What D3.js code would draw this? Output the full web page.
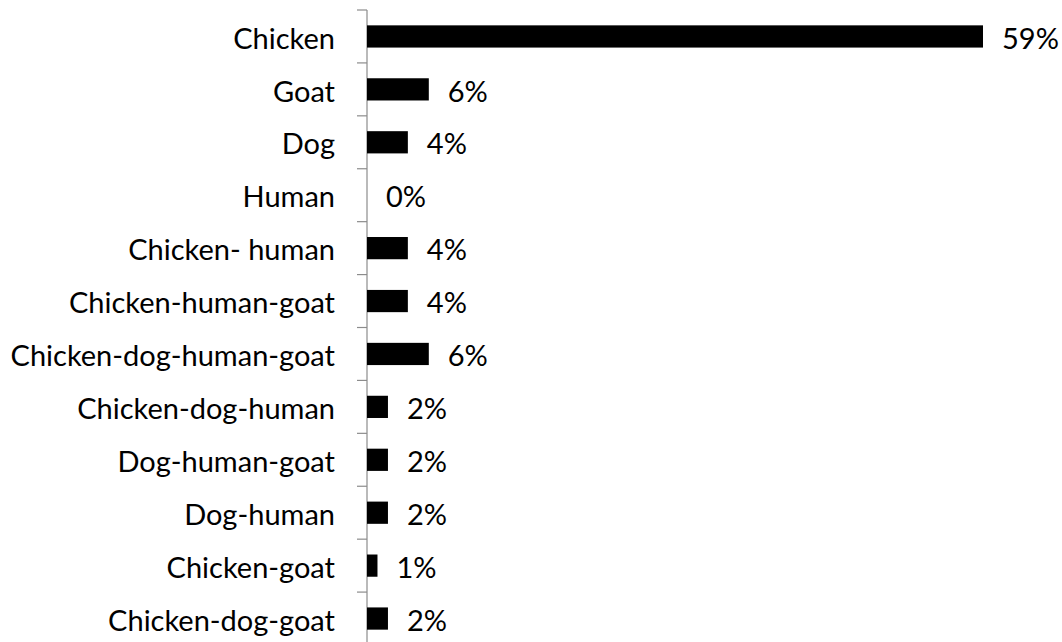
<!DOCTYPE html>
<html>
<head>
<meta charset="utf-8">
<script src="https://cdn.jsdelivr.net/npm/d3@7"></script>
<style>
  body { margin: 0; background: #fff; }
  text { font-family: Lato, "Open Sans", sans-serif; fill: #000; }
</style>
</head>
<body>
<svg id="chart" width="1062" height="642"></svg>
<script>
const categories = ['Chicken', 'Goat', 'Dog', 'Human', 'Chicken- human', 'Chicken-human-goat',
  'Chicken-dog-human-goat', 'Chicken-dog-human', 'Dog-human-goat', 'Dog-human', 'Chicken-goat', 'Chicken-dog-goat']
const values = [58.8, 5.9, 3.9, 0, 3.9, 3.9, 5.9, 2.0, 2.0, 2.0, 1.0, 2.0]

const data = categories.map((c, i) => ({ name: c, value: values[i] }))

const svg = d3.select('#chart')
const axisX = 367

const xScale = d3.scaleLinear().domain([0, 58.8]).range([axisX, 983])
const yScale = d3.scaleBand().domain(categories).range([10, 645]).paddingInner(0.58).paddingOuter(0.29)

// ticks at band boundaries
const step = yScale.step()
const bounds = d3.range(categories.length + 1).map(i => 10 + i * step)

svg.append('line')
  .attr('x1', axisX).attr('x2', axisX)
  .attr('y1', 10).attr('y2', 645)
  .attr('stroke', '#8c8c8c').attr('stroke-width', 1.2)

svg.selectAll('.tick')
  .data(bounds)
  .enter()
  .append('line')
  .attr('x1', axisX - 10).attr('x2', axisX)
  .attr('y1', d => d).attr('y2', d => d)
  .attr('stroke', '#8c8c8c').attr('stroke-width', 1.2)

svg.selectAll('.bar')
  .data(data)
  .enter()
  .append('rect')
  .attr('x', axisX)
  .attr('y', d => yScale(d.name))
  .attr('width', d => xScale(d.value) - axisX)
  .attr('height', yScale.bandwidth())
  .attr('fill', '#000')

svg.selectAll('.cat')
  .data(data)
  .enter()
  .append('text')
  .attr('x', 335)
  .attr('y', d => yScale(d.name) + yScale.bandwidth() / 2)
  .attr('dy', '0.42em')
  .attr('text-anchor', 'end')
  .style('font-size', '29px')
  .text(d => d.name)

svg.selectAll('.val')
  .data(data)
  .enter()
  .append('text')
  .attr('x', d => xScale(d.value) + 19)
  .attr('y', d => yScale(d.name) + yScale.bandwidth() / 2)
  .attr('dy', '0.42em')
  .style('font-size', '29px')
  .text(d => Math.round(d.value) + '%')
</script>
</body>
</html>
